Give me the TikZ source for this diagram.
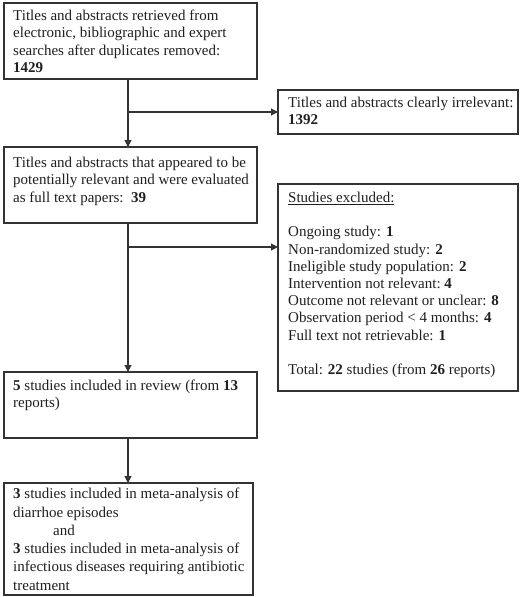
\documentclass[tikz,border=0pt]{standalone}
\usepackage{fontspec}
\setmainfont{Liberation Serif}
\usetikzlibrary{arrows.meta,calc}
\begin{document}
\begin{tikzpicture}[x=1pt,y=-1pt,
  box/.style={draw=black!80, line width=1.3pt, inner sep=0pt, outer sep=0pt, anchor=north west, rectangle},
  txt/.style={anchor=north west, inner sep=0pt, align=left, font=\fontsize{15}{17.2}\selectfont, text=black!88},
  ln/.style={draw=black!80, line width=1.2pt},
  arr/.style={ln, -{Triangle[length=7pt,width=7pt]}}]
\useasboundingbox (0,0) rectangle (520,597);
% boxes
\node[box, minimum width=253pt, minimum height=76pt] (b1) at (4,3) {};
\node[box, minimum width=240pt, minimum height=44pt] (b2) at (278,90) {};
\node[box, minimum width=253pt, minimum height=76pt] (b3) at (4,147) {};
\node[box, minimum width=240pt, minimum height=207pt] (b4) at (278,184) {};
\node[box, minimum width=253pt, minimum height=66pt] (b5) at (4,372) {};
\node[box, minimum width=249pt, minimum height=112pt] (b6) at (4,483) {};
% texts
\node[txt] (x1) at (13,10) {Titles and abstracts retrieved from\\electronic, bibliographic and expert\\searches after duplicates removed:\\\textbf{1429}};
\node[txt] (x2) at (288,97) {Titles and abstracts clearly irrelevant:\\\textbf{1392}};
\node[txt] (x3) at (13,157) {Titles and abstracts that appeared to be\\potentially relevant and were evaluated\\as full text papers:\ \ \textbf{39}};
\node[txt] (x4) at (288,192) {\underline{Studies excluded:}\\[17pt]Ongoing study: \textbf{1}\\Non-randomized study: \textbf{2}\\Ineligible study population: \textbf{2}\\Intervention not relevant:\ \textbf{4}\\Outcome not relevant or unclear: \textbf{8}\\Observation period < 4 months: \textbf{4}\\Full text not retrievable: \textbf{1}\\[17pt]Total: \textbf{22} studies (from \textbf{26} reports)};
\node[txt] (x5) at (13,380) {\textbf{5} studies included in review (from \textbf{13}\\reports)};
\node[txt, font=\fontsize{15}{18.3}\selectfont] (x6) at (13,488) {\textbf{3} studies included in meta-analysis of\\diarrhoe episodes\\\hspace*{40pt}and\\\textbf{3} studies included in meta-analysis of\\infectious diseases requiring antibiotic\\treatment};
% connectors
\coordinate (t1) at (128,112);
\coordinate (t2) at (128,247);
\draw[ln] (b1.south -| t1) -- (t1);
\draw[arr] (t1) -- (b2.west |- t1);
\draw[arr] (t1) -- (b3.north -| t1);
\draw[ln] (b3.south -| t2) -- (t2);
\draw[arr] (t2) -- (b4.west |- t2);
\draw[arr] (t2) -- (b5.north -| t2);
\draw[arr] (b5.south -| t2) -- (b6.north -| t2);
\end{tikzpicture}
\end{document}
